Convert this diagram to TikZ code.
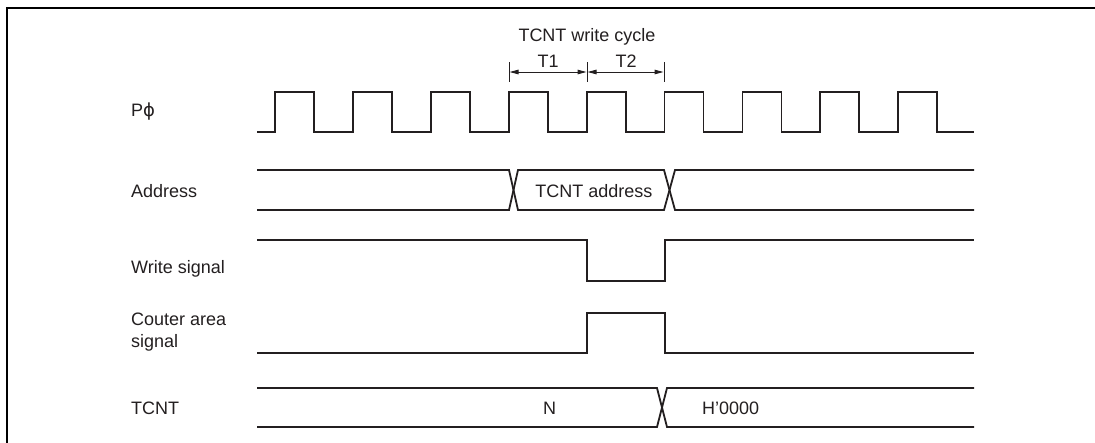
\documentclass[tikz,border=0pt]{standalone}
\usepackage{fontspec}
\setmainfont{Liberation Sans}
\newfontfamily\djv{DejaVu Sans}
\usetikzlibrary{arrows.meta}
\definecolor{ink}{HTML}{231F20}
\begin{document}
\begin{tikzpicture}[x=1pt,y=-1pt,
  sig/.style={line width=1.8pt, draw=ink, line join=miter},
  frame/.style={line width=2.6pt, draw=black},
  tick/.style={line width=0.9pt, draw=ink},
  dim/.style={line width=1pt, draw=ink, {Triangle[length=9pt,width=4.5pt]}-{Triangle[length=9pt,width=4.5pt]}, shorten <=0.5pt, shorten >=0.5pt},
  lbl/.style={anchor=base west, inner sep=0pt, font=\fontsize{18}{21}\selectfont, text=ink},
  txt/.style={anchor=base, inner sep=0pt, font=\fontsize{18}{21}\selectfont, text=ink}]
\useasboundingbox (0,0) rectangle (1095,442);
% frame (top and left edges)
\draw[frame] (7,443) -- (7,8) -- (1096,8);

% labels
\node[lbl] (lphi) at (131,116) {P{\djv ϕ}};
\node[lbl] (laddr) at (131,197) {Address};
\node[lbl] (lwr) at (131,273) {Write signal};
\node[lbl] (lca1) at (131,325) {Couter area};
\node[lbl] (lca2) at (131,347) {signal};
\node[lbl] (ltcnt) at (131,414) {TCNT};

% write-cycle dimension
\node[txt] (cyc) at (587,41) {TCNT write cycle};
\node[txt] (tone) at (548,67) {T1};
\node[txt] (ttwo) at (626,67) {T2};
\coordinate (a0) at (509,62); \coordinate (b0) at (509,82);
\coordinate (a1) at (587,62); \coordinate (b1) at (587,82);
\coordinate (a2) at (664,62); \coordinate (b2) at (664,82);
\coordinate (m0) at (509,72); \coordinate (m1) at (587,72); \coordinate (m2) at (664,72);
\draw[tick] (a0) -- (b0);
\draw[tick] (a1) -- (b1);
\draw[tick] (a2) -- (b2);
\draw[dim] (m0) -- (m1);
\draw[dim] (m1) -- (m2);

% clock
\draw[sig] (257,132)
  \foreach \k in {0,...,8} {
    -- ({275+77.9*\k},132) -- ({275+77.9*\k},92) -- ({314+77.9*\k},92) -- ({314+77.9*\k},132)
  } -- (974,132);

% address bus
\draw[sig] (257,170) -- (509,170) -- (518,210) -- (664,210) -- (675,170) -- (974,170);
\draw[sig] (257,210) -- (509,210) -- (518,170) -- (664,170) -- (675,210) -- (974,210);
\node[txt] (addr) at (594,197) {TCNT address};

% write signal
\draw[sig] (257,240) -- (587,240) -- (587,281) -- (665,281) -- (665,240) -- (974,240);

% counter area signal
\draw[sig] (257,353) -- (587,353) -- (587,313) -- (665,313) -- (665,353) -- (974,353);

% TCNT
\draw[sig] (257,388) -- (657,388) -- (667,427) -- (974,427);
\draw[sig] (257,427) -- (657,427) -- (667,388) -- (974,388);
\node[lbl] (nval) at (543,414) {N};
\node[lbl] (hval) at (702,414) {H\char"0027 0000};
\end{tikzpicture}
\end{document}
